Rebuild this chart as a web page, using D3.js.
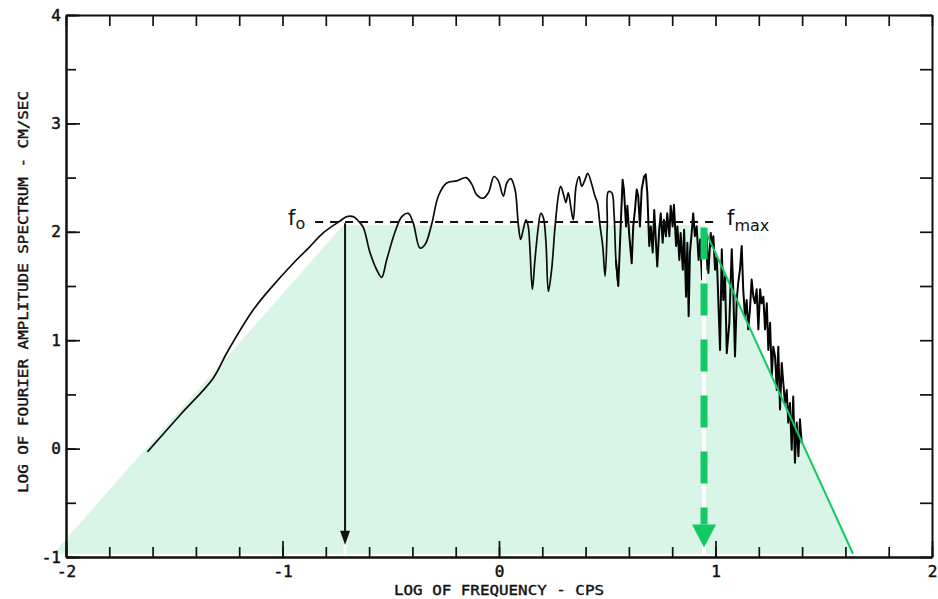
<!DOCTYPE html>
<html><head><meta charset="utf-8">
<script src="https://cdn.jsdelivr.net/npm/d3@7"></script>
<style>body{margin:0;background:#fff}svg{display:block}</style>
</head><body><svg id="c" width="938" height="599"></svg>
<script>
// ---- data (log10 frequency, log10 Fourier amplitude) ----
const logFreq = [-1.624,-1.473,-1.320,-1.258,-1.135,-1.050,-0.950,-0.880,-0.812,-0.734,-0.703,-0.673,-0.650,-0.627,-0.596,-0.565,-0.542,-0.519,-0.480,-0.449,-0.419,-0.396,-0.365,-0.342,-0.311,-0.280,-0.242,-0.195,-0.152,-0.126,-0.103,-0.073,-0.049,-0.023,-0.003,0.020,0.036,0.054,0.074,0.089,0.100,0.112,0.125,0.135,0.143,0.154,0.166,0.182,0.193,0.205,0.217,0.228,0.243,0.259,0.274,0.285,0.300,0.309,0.320,0.331,0.343,0.356,0.370,0.382,0.397,0.410,0.428,0.443,0.454,0.467,0.479,0.490,0.500,0.505,0.521,0.531,0.540,0.551,0.562,0.571,0.577,0.587,0.593,0.602,0.613,0.620,0.628,0.636,0.643,0.651,0.659,0.670,0.678,0.685,0.694,0.701,0.710,0.717,0.725,0.731,0.740,0.747,0.756,0.762,0.771,0.777,0.787,0.793,0.802,0.808,0.818,0.824,0.833,0.839,0.849,0.855,0.864,0.870,0.876,0.882,0.890,0.897,0.905,0.913,0.922,0.929,0.938,0.947,0.954,0.959,0.967,0.978,0.982,0.990,0.998,1.006,1.013,1.021,1.029,1.036,1.044,1.052,1.064,1.075,1.082,1.090,1.098,1.105,1.113,1.121,1.128,1.136,1.144,1.151,1.159,1.167,1.175,1.182,1.190,1.198,1.206,1.213,1.221,1.229,1.237,1.244,1.252,1.260,1.267,1.275,1.283,1.290,1.298,1.306,1.313,1.321,1.329,1.336,1.344,1.352,1.359,1.367,1.375,1.383,1.390,1.398];
const logAmp = [-0.03,0.31,0.65,0.88,1.28,1.49,1.71,1.85,1.99,2.10,2.14,2.14,2.10,2.04,1.81,1.65,1.58,1.74,2.00,2.14,2.17,2.08,1.85,1.88,2.07,2.33,2.45,2.47,2.50,2.44,2.34,2.31,2.36,2.51,2.47,2.33,2.45,2.49,2.39,2.07,1.93,2.02,2.11,2.05,1.84,1.47,1.74,2.05,2.17,2.13,1.90,1.45,1.65,2.05,2.33,2.42,2.33,2.27,2.36,2.24,2.11,2.42,2.51,2.42,2.48,2.54,2.44,2.33,2.27,2.05,1.87,1.59,2.05,2.37,2.36,2.18,1.74,1.50,2.05,2.48,2.39,2.05,2.24,1.96,1.71,2.05,2.20,2.39,2.33,2.05,2.39,2.51,2.53,2.36,1.87,2.05,1.81,2.20,1.90,1.68,2.02,2.17,1.90,2.11,1.96,2.17,1.96,2.24,2.05,2.25,1.87,2.05,1.74,1.99,1.65,2.02,1.40,1.90,1.22,1.81,1.99,2.17,1.96,2.05,1.74,1.93,1.56,2.02,1.65,1.96,1.62,1.99,1.87,1.96,1.65,1.77,1.37,0.91,1.84,1.37,1.59,0.88,1.16,1.84,1.47,0.85,1.37,1.53,1.65,1.87,1.47,1.22,1.37,1.10,1.28,1.56,1.40,1.34,1.47,1.10,1.47,1.34,1.40,1.10,1.34,0.91,1.16,0.67,0.94,0.85,0.54,0.94,0.36,0.79,0.61,0.42,0.54,0.24,0.42,-0.01,0.48,-0.13,0.24,-0.07,0.27,0.05];

const xTickLabels = [-2,-1,0,1,2];
const yTickLabels = [-1,0,1,2,3,4];
const xMinorTicks = [-2,-1.8,-1.6,-1.4,-1.2,-1,-0.8,-0.6,-0.4,-0.2,0,0.2,0.4,0.6,0.8,1,1.2,1.4,1.6,1.8,2];
const yMinorTicks = [-1,-0.5,0,0.5,1,1.5,2,2.5,3,3.5,4];

// model spectrum (shaded trapezoid) and corner frequencies
const logF0 = -0.711, logFmax = 0.947, plateauLevel = 2.09;
const shadeX = [-2.06, -0.72, 0.95, 1.64];
const shadeY = [-0.97, 2.06, 2.06, -0.97];
const decayX = [0.955, 1.635];
const decayY = [2.0, -0.97];
const noisyFrom = 0.55;
const xTitle = "LOG OF FREQUENCY - CPS";
const yTitle = "LOG OF FOURIER AMPLITUDE SPECTRUM - CM/SEC";

// ---- drawing ----
const svg = d3.select("#c");
const x = d3.scaleLinear().domain([-2,2]).range([66,932]);
const y = d3.scaleLinear().domain([-1,4]).range([557,15]);
const GREEN = "#12c964", FILL = "#d9f5e7", INK = "#111";
const FONT = "'DejaVu Sans Mono', monospace";

// shaded trapezoid
svg.append("path")
  .attr("d", d3.line().x((d,i)=>x(shadeX[i])).y((d,i)=>y(shadeY[i]))(shadeX) + "Z")
  .attr("fill", FILL);

// axes
function styleAxis(g){
  g.select(".domain").attr("stroke", INK).attr("stroke-width", 2);
  g.selectAll(".tick line").attr("stroke", INK).attr("stroke-width", 1.7);
  g.selectAll("text").attr("font-family", FONT).attr("font-size", 16).attr("fill", INK)
    .attr("stroke", INK).attr("stroke-width", 0.5);
}
svg.append("g").attr("transform","translate(0,557)")
  .call(d3.axisBottom(x).tickValues(xMinorTicks).tickFormat("").tickSizeInner(-10).tickSizeOuter(0)).call(styleAxis);
svg.append("g").attr("transform","translate(0,557)")
  .call(d3.axisBottom(x).tickValues(xTickLabels).tickFormat(d=>String(d)).tickSizeInner(-16).tickSizeOuter(0).tickPadding(9)).call(styleAxis);
svg.append("g").attr("transform","translate(0,15)")
  .call(d3.axisTop(x).tickValues(xMinorTicks).tickFormat("").tickSizeInner(-11).tickSizeOuter(0)).call(styleAxis);
svg.append("g").attr("transform","translate(66,0)")
  .call(d3.axisLeft(y).tickValues(yMinorTicks).tickFormat("").tickSizeInner(-10).tickSizeOuter(0)).call(styleAxis);
svg.append("g").attr("transform","translate(66,0)")
  .call(d3.axisLeft(y).tickValues(yTickLabels).tickFormat(d=>String(d)).tickSizeInner(-14).tickSizeOuter(0).tickPadding(5)).call(styleAxis);
svg.append("g").attr("transform","translate(932,0)")
  .call(d3.axisRight(y).tickValues(yMinorTicks).tickFormat("").tickSizeInner(-12).tickSizeOuter(0)).call(styleAxis);

// axis titles
svg.append("text").attr("x", x(0)).attr("y", 595).attr("text-anchor","middle")
  .attr("font-family", FONT).attr("font-size", 14.5).attr("fill", INK).attr("stroke", INK).attr("stroke-width", 0.4)
  .attr("textLength", 210).attr("lengthAdjust","spacingAndGlyphs").text(xTitle);
svg.append("text").attr("transform","translate(28,292) rotate(-90)").attr("text-anchor","middle")
  .attr("font-family", FONT).attr("font-size", 14.5).attr("fill", INK).attr("stroke", INK).attr("stroke-width", 0.4)
  .attr("textLength", 402).attr("lengthAdjust","spacingAndGlyphs").text(yTitle);

// observed spectrum: smooth low-frequency part and noisy high-frequency part
const idx = d3.range(logFreq.length);
const smoothIdx = idx.filter(i => logFreq[i] <= noisyFrom + 0.002);
const noisyIdx = idx.filter(i => logFreq[i] >= noisyFrom - 0.015);
svg.append("path")
  .attr("d", d3.line().x(i=>x(logFreq[i])).y(i=>y(logAmp[i])).curve(d3.curveCatmullRom.alpha(0.5))(smoothIdx))
  .attr("fill","none").attr("stroke","#0b0b0b").attr("stroke-width",1.7).attr("stroke-linejoin","round");
svg.append("path")
  .attr("d", d3.line().x(i=>x(logFreq[i])).y(i=>y(logAmp[i])).curve(d3.curveLinear)(noisyIdx))
  .attr("fill","none").attr("stroke","#050505").attr("stroke-width",2).attr("stroke-linejoin","round");

// plateau dashed line
svg.append("line").attr("x1", x(logF0)-30).attr("x2", x(logFmax)+14)
  .attr("y1", y(plateauLevel)).attr("y2", y(plateauLevel))
  .attr("stroke", INK).attr("stroke-width", 2).attr("stroke-dasharray","8,7");

// labels f0, fmax
const f0t = svg.append("text").attr("x", x(logF0)-57).attr("y", y(plateauLevel)+3)
  .attr("font-family","'DejaVu Sans', sans-serif").attr("font-size",21).attr("fill",INK);
f0t.append("tspan").text("f");
f0t.append("tspan").attr("dy",4).attr("font-size",16).text("o");
const fmt = svg.append("text").attr("x", x(logFmax)+23).attr("y", y(plateauLevel)+3)
  .attr("font-family","'DejaVu Sans', sans-serif").attr("font-size",21).attr("fill",INK);
fmt.append("tspan").text("f");
fmt.append("tspan").attr("dy",6).attr("font-size",16).text("max");

// decay line (green)
svg.append("line").attr("x1",x(decayX[0])).attr("y1",y(decayY[0])).attr("x2",x(decayX[1])).attr("y2",y(decayY[1]))
  .attr("stroke",GREEN).attr("stroke-width",2);

// f0 arrow (black)
const f0Tip = y(-0.886);
svg.append("line").attr("x1",x(logF0)).attr("x2",x(logF0)).attr("y1",f0Tip).attr("y2",y(-0.97))
  .attr("stroke","#fff").attr("stroke-width",3);
svg.append("line").attr("x1",x(logF0)).attr("x2",x(logF0)).attr("y1",y(2.08)).attr("y2",f0Tip-10)
  .attr("stroke",INK).attr("stroke-width",2);
svg.append("path").attr("d",`M${x(logF0)-5},${f0Tip-14}L${x(logF0)+5},${f0Tip-14}L${x(logF0)},${f0Tip}Z`).attr("fill",INK);

// fmax arrow (green dashed)
const fmTop = y(2.04), fmBase = y(-0.70), fmTip = y(-0.913), fx = x(logFmax);
svg.append("line").attr("x1",fx).attr("x2",fx).attr("y1",fmTop).attr("y2",y(-0.97))
  .attr("stroke","#fff").attr("stroke-width",4);
svg.append("line").attr("x1",fx).attr("x2",fx).attr("y1",fmTop).attr("y2",fmBase)
  .attr("stroke",GREEN).attr("stroke-width",7).attr("stroke-dasharray","32,24");
svg.append("path").attr("d",`M${fx-12},${fmBase}L${fx+12},${fmBase}L${fx},${fmTip}Z`).attr("fill",GREEN);
</script></body></html>
